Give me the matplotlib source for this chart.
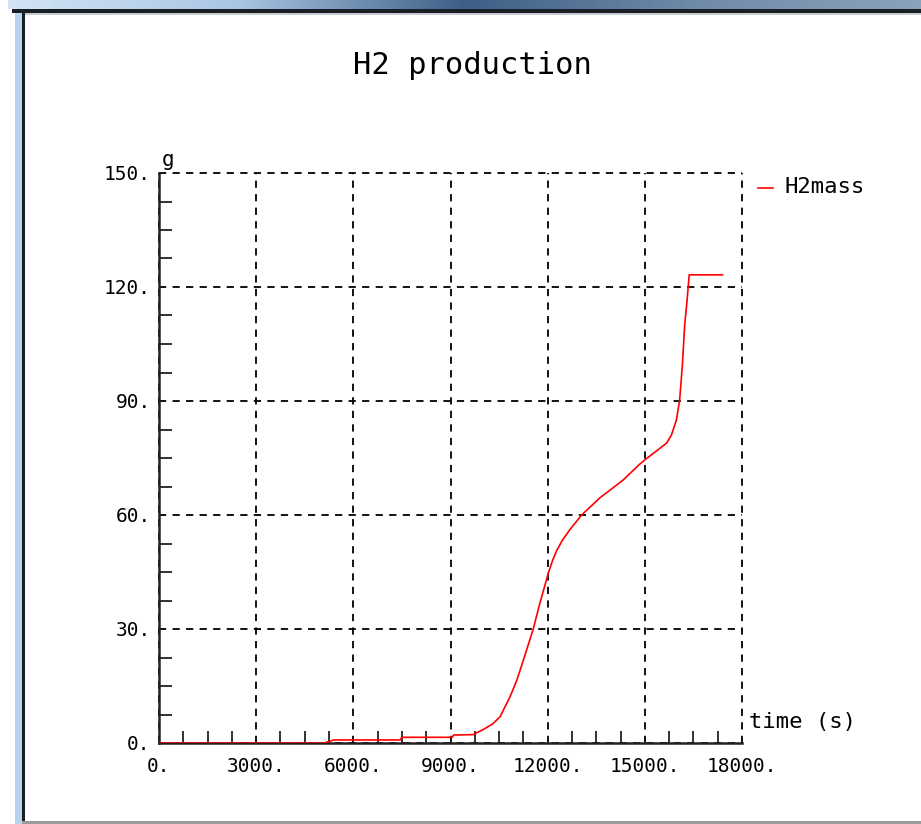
import numpy as np
import matplotlib
matplotlib.use("Agg")
import matplotlib.pyplot as plt
from matplotlib.ticker import MultipleLocator, FuncFormatter
from matplotlib.lines import Line2D
from matplotlib.patches import Rectangle

# H2 mass produced vs time
time_s = [0, 5100, 5400, 7450, 7500, 9050, 9100, 9700, 10000, 10300, 10530,
          10840, 11050, 11250, 11555, 11760, 12020, 12150, 12277, 12450,
          12690, 13050, 13610, 14330, 14820, 15000, 15670, 15820, 15975,
          16075, 16160, 16230, 16300, 16370, 17400]
h2_mass = [0, 0, 0.8, 0.8, 1.5, 1.5, 2.1, 2.2, 3.5, 5.0, 6.9,
           12.2, 16.6, 21.8, 30.0, 36.8, 44.7, 48.0, 50.6, 53.3,
           56.2, 60.0, 64.5, 69.2, 73.2, 74.5, 78.9, 81.0, 85.0,
           90.3, 99.5, 110.0, 116.1, 123.2, 123.2]

W, H = 921, 824
fig = plt.figure(figsize=(W / 100, H / 100), dpi=100)
fig.patch.set_facecolor("white")
font = "DejaVu Sans Mono"

# window frame around the screenshot
bg = fig.add_axes([0, 0, 1, 1], zorder=-10)
bg.set_xlim(0, W)
bg.set_ylim(H, 0)
bg.axis("off")
grad = np.linspace(0, 1, 256).reshape(1, -1)
bg.imshow(grad, extent=(8, W, 9, 0), aspect="auto",
          cmap=matplotlib.colors.LinearSegmentedColormap.from_list(
              "bar", ["#d2e4f6", "#aac6e4", "#3d5f86", "#6f8aa8", "#8aa2bc"]))
bg.add_patch(Rectangle((15, 9), 7, H, color="#b9d3ee", lw=0))
bg.add_patch(Rectangle((12, 9), 909, 4, color="#1a1f26", lw=0))
bg.add_patch(Rectangle((22, 9), 3, H, color="#1a1f26", lw=0))
bg.add_patch(Rectangle((25, 13), 896, 2, color="#c8ccd0", lw=0))
bg.add_patch(Rectangle((22, 821), 899, 3, color="#9a9a9a", lw=0))

ax = fig.add_axes([159 / W, 1 - 743 / H, (742 - 159) / W, (743 - 173) / H])
ax.plot(time_s, h2_mass, color="red", lw=1.2, label="H2mass", zorder=3)

ax.set_xlim(0, 18000)
ax.set_ylim(0, 150)
ax.xaxis.set_major_locator(MultipleLocator(3000))
ax.xaxis.set_minor_locator(MultipleLocator(750))
ax.yaxis.set_major_locator(MultipleLocator(30))
ax.yaxis.set_minor_locator(MultipleLocator(7.5))
fmt = FuncFormatter(lambda v, p: "%d." % v)
ax.xaxis.set_major_formatter(fmt)
ax.yaxis.set_major_formatter(fmt)
ax.tick_params(which="both", direction="in", length=9, width=1.3, color="#222222")
ax.tick_params(which="major", length=0)
ax.tick_params(axis="x", pad=10)
ax.tick_params(axis="y", pad=6)
for lab in ax.get_xticklabels() + ax.get_yticklabels():
    lab.set_fontfamily(font)
    lab.set_fontsize(14)

for s in ["top", "right"]:
    ax.spines[s].set_visible(False)
for s in ["left", "bottom"]:
    ax.spines[s].set_linewidth(1.8)
    ax.spines[s].set_color("#222222")

ax.grid(True, which="major", color="black", ls=(0, (4, 3.5)), lw=1.3)
for gl in ax.get_xgridlines() + ax.get_ygridlines():
    gl.set_clip_on(False)

ax.text(0.005, 1.005, "g", transform=ax.transAxes, family=font, fontsize=15,
        ha="left", va="bottom")
ax.text(1.012, 0.036, "time (s)", transform=ax.transAxes, family=font,
        fontsize=16, ha="left", va="center")

fig.text(472 / W, 1 - 65 / H, "H2 production", family=font, fontsize=22,
         ha="center", va="center")

# legend entry to the right of the plot
fig.add_artist(Line2D([758 / W, 773 / W], [1 - 188 / H, 1 - 188 / H],
                      color="red", lw=1.2))
fig.text(784 / W, 1 - 187 / H, "H2mass", family=font, fontsize=16,
         ha="left", va="center")

fig.savefig("out.png", dpi=100)
